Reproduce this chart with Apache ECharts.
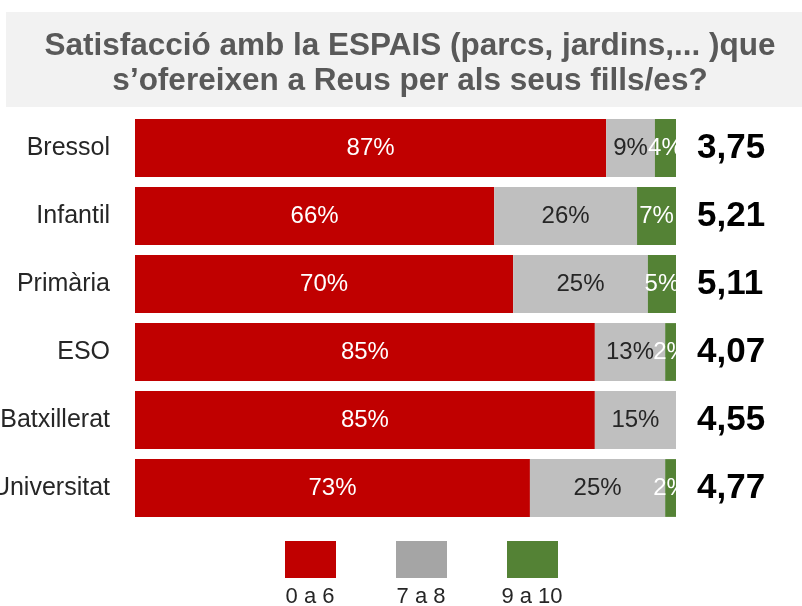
<!DOCTYPE html>
<html>
<head>
<meta charset="utf-8">
<script src="https://cdn.jsdelivr.net/npm/echarts@6/dist/echarts.min.js"></script>
<style>
  html, body { margin: 0; padding: 0; background: #fff; }
  #main { width: 802px; height: 606px; }
</style>
</head>
<body>
<div id="main"></div>
<script>
// categories (top to bottom)
var categories = ['Bressol', 'Infantil', 'Primària', 'ESO', 'Batxillerat', 'Universitat'];
var seriesNames = ['0 a 6', '7 a 8', '9 a 10'];
// percentages
var low = [87.1, 66.4, 69.9, 85.0, 85.0, 73.0];
var mid = [9.0, 26.4, 24.9, 13.0, 15.0, 25.0];
var high = [3.9, 7.2, 5.2, 2.0, 0, 2.0];
// mean score on the right
var scores = ['3,75', '5,21', '5,11', '4,07', '4,55', '4,77'];

var barColors = ['#C00000', '#BFBFBF', '#548235'];
var legendColors = ['#C00000', '#A5A5A5', '#548235'];
var labelColors = ['#ffffff', '#262626', '#ffffff'];

var myChart = echarts.init(document.getElementById('main'));

function pct(p) {
  return p.value > 0 ? Math.round(p.value) + '%' : '';
}

var values = [low, mid, high];
var series = [];
for (var i = 0; i < 3; i++) {
  series.push({
    name: seriesNames[i],
    type: 'bar',
    stack: 'total',
    barCategoryGap: '15%',
    data: values[i],
    itemStyle: { color: barColors[i] },
    label: {
      show: true,
      position: 'inside',
      formatter: pct,
      color: labelColors[i],
      fontSize: 24,
      fontFamily: 'Liberation Sans'
    }
  });
}

// legend drawn by hand: swatch with its name underneath
var graphics = [{
  type: 'rect',
  shape: { x: 6, y: 12, width: 796, height: 95 },
  style: { fill: '#F2F2F2' },
  z: -1
}];
var legendX = [285, 396, 507];
for (var j = 0; j < 3; j++) {
  graphics.push({
    type: 'rect',
    shape: { x: legendX[j], y: 541, width: 51, height: 37 },
    style: { fill: legendColors[j] }
  });
  graphics.push({
    type: 'text',
    x: legendX[j] + 25,
    y: 597,
    style: {
      text: seriesNames[j],
      fill: '#262626',
      font: '22px Liberation Sans',
      textAlign: 'center',
      textVerticalAlign: 'middle'
    }
  });
}

var option = {
  backgroundColor: '#fff',
  animation: false,
  title: {
    text: 'Satisfacció amb la ESPAIS (parcs, jardins,... )que\ns’ofereixen a Reus per als seus fills/es?',
    left: 405,
    top: 24,
    textAlign: 'center',
    textStyle: {
      color: '#595959',
      fontSize: 31.5,
      fontWeight: 'bold',
      fontFamily: 'Liberation Sans',
      lineHeight: 35
    }
  },
  grid: { left: 135, right: 126, top: 114, bottom: 84, outerBoundsMode: 'none', containLabel: false },
  xAxis: {
    type: 'value',
    min: 0,
    max: 100,
    show: false
  },
  yAxis: [{
    type: 'category',
    data: categories,
    inverse: true,
    axisLine: { show: false },
    axisTick: { show: false },
    axisLabel: {
      margin: 25,
      color: '#262626',
      fontSize: 25,
      fontFamily: 'Liberation Sans'
    }
  }, {
    type: 'category',
    data: scores,
    inverse: true,
    position: 'right',
    axisLine: { show: false },
    axisTick: { show: false },
    axisLabel: {
      margin: 21,
      color: '#000',
      fontSize: 35,
      fontWeight: 'bold',
      fontFamily: 'Liberation Sans'
    }
  }],
  series: series,
  graphic: graphics
};

myChart.setOption(option);
</script>
</body>
</html>
